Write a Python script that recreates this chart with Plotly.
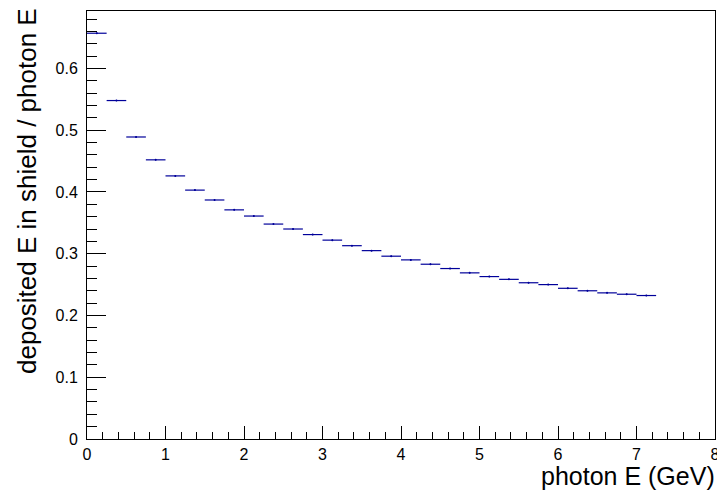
import plotly.graph_objects as go

# Histogram bins (GeV): 29 bins of width 0.25 starting at 0
bin_width = 0.25
bin_low = [0.0, 0.25, 0.5, 0.75, 1.0, 1.25, 1.5, 1.75, 2.0, 2.25, 2.5, 2.75, 3.0, 3.25,
           3.5, 3.75, 4.0, 4.25, 4.5, 4.75, 5.0, 5.25, 5.5, 5.75, 6.0, 6.25, 6.5, 6.75, 7.0]
ratio = [0.657, 0.548, 0.489, 0.452, 0.426, 0.403, 0.387, 0.371, 0.361, 0.348,
         0.340, 0.331, 0.322, 0.313, 0.305, 0.296, 0.290, 0.283, 0.276, 0.269,
         0.263, 0.2585, 0.253, 0.250, 0.244, 0.240, 0.2366, 0.2344, 0.2323]
ratio_err = [0.001] * len(ratio)

x_ticks = [0, 1, 2, 3, 4, 5, 6, 7, 8]
y_ticks = [0, 0.1, 0.2, 0.3, 0.4, 0.5, 0.6]
y_tick_text = ["0", "0.1", "0.2", "0.3", "0.4", "0.5", "0.6"]

centers = [b + bin_width / 2 for b in bin_low]

col = "#00009a"
fig = go.Figure()
fig.add_trace(go.Scatter(
    x=centers, y=ratio, mode="markers",
    marker=dict(size=2, color=col),
    error_x=dict(type="constant", value=bin_width / 2, width=0, thickness=1.2, color=col),
    error_y=dict(type="data", array=ratio_err, width=0, thickness=1, color=col),
    showlegend=False,
))

font = "Liberation Sans, Arial, Helvetica, sans-serif"
fig.update_layout(
    width=717, height=492,
    margin=dict(l=87, r=2, t=11, b=53, autoexpand=False),
    paper_bgcolor="white", plot_bgcolor="white",
    font=dict(family=font, size=16, color="black"),
    xaxis=dict(
        range=[0, 8], tickvals=x_ticks, ticktext=[str(v) for v in x_ticks],
        showgrid=False, zeroline=False,
        showline=True, linecolor="black", linewidth=1, mirror=True,
        ticks="inside", ticklen=13, tickcolor="black", tickwidth=1,
        minor=dict(dtick=0.2, ticks="inside", ticklen=7, tickcolor="black", tickwidth=1, showgrid=False),
        tickfont=dict(size=16), ticklabelstandoff=1, ticklabeloverflow="allow",
    ),
    yaxis=dict(
        range=[0, 0.693], tickvals=y_ticks, ticktext=y_tick_text,
        showgrid=False, zeroline=False,
        showline=True, linecolor="black", linewidth=1, mirror=True,
        ticks="inside", ticklen=19, tickcolor="black", tickwidth=1,
        minor=dict(dtick=0.02, ticks="inside", ticklen=10, tickcolor="black", tickwidth=1, showgrid=False),
        tickfont=dict(size=16), ticklabelstandoff=5, ticklabeloverflow="allow",
    ),
    annotations=[
        dict(text="photon E (GeV)", xref="paper", yref="paper", x=1.0 + 2 / 628, y=-(460 - 439) / 428,
             xanchor="right", yanchor="top", showarrow=False, font=dict(size=25)),
        dict(text="deposited E in shield / photon E", xref="paper", yref="paper",
             x=-(87 - 27) / 628, y=1.0 + 5 / 428, xanchor="center", yanchor="top",
             textangle=-90, showarrow=False, font=dict(size=26)),
    ],
)

fig.write_html("out.html", config={"displayModeBar": False},
               post_script="document.body.style.margin='0';document.body.style.overflow='hidden';")
